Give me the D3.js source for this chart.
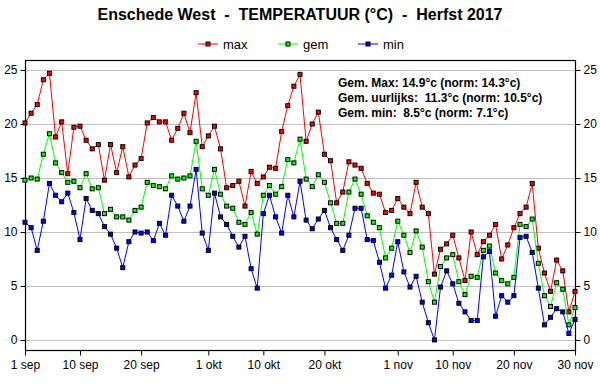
<!DOCTYPE html>
<html>
<head>
<meta charset="utf-8">
<script src="https://cdn.jsdelivr.net/npm/d3@7"></script>
<style>
  body { margin: 0; background: #fff; }
  svg { font-family: Arial, "Liberation Sans", sans-serif; }
</style>
</head>
<body>
<div id="chart"></div>
<script>
const maxT = [20.1, 21.0, 21.8, 24.1, 24.7, 18.8, 20.2, 15.4, 19.7, 19.8,
  18.5, 17.7, 18.1, 14.8, 18.1, 15.5, 17.9, 15.1, 16.2, 16.8,
  20.1, 20.6, 20.2, 20.2, 18.5, 19.6, 21.0, 19.2, 22.9, 17.9,
  18.9, 19.8, 17.7, 14.1, 14.3, 14.7, 12.4, 15.6, 14.5, 15.1,
  16.0, 15.9, 19.3, 21.7, 23.5, 24.6, 18.4, 20.0, 21.1, 17.2,
  16.6, 12.7, 13.7, 16.5, 16.2, 15.9, 14.5, 13.6, 13.5, 11.8,
  12.0, 13.1, 12.3, 11.7, 14.6, 12.3, 11.7, 6.1, 8.4, 8.9,
  9.7, 7.6, 5.5, 10.0, 7.9, 9.1, 9.7, 10.7, 7.5, 8.8,
  10.4, 11.7, 12.3, 14.5, 8.5, 6.2, 4.5, 7.4, 6.4, 2.6, 4.5];

const gemT = [14.8, 15.0, 14.9, 17.2, 19.1, 16.4, 15.5, 14.6, 14.7, 14.1,
  15.4, 14.0, 14.1, 11.7, 12.1, 11.4, 11.4, 11.1, 12.0, 12.3,
  14.6, 14.3, 14.2, 14.0, 15.2, 14.9, 15.0, 15.2, 18.4, 14.0,
  13.4, 15.8, 13.5, 12.4, 12.2, 10.9, 10.7, 11.8, 9.8, 13.4,
  14.3, 13.5, 14.2, 16.7, 16.4, 18.6, 14.9, 14.2, 15.3, 14.6,
  12.7, 10.8, 10.8, 13.7, 14.9, 13.5, 11.5, 10.9, 10.4, 7.6,
  8.5, 11.0, 9.7, 8.1, 10.1, 8.6, 5.4, 3.5, 6.8, 7.6,
  7.9, 5.4, 4.2, 5.9, 5.8, 8.3, 8.7, 6.2, 5.5, 5.2,
  5.8, 10.7, 10.5, 11.2, 7.1, 4.1, 3.1, 5.3, 4.7, 1.4, 3.0];

const minT = [10.9, 10.4, 8.3, 11.0, 14.5, 13.4, 12.8, 13.6, 11.8, 9.3,
  13.1, 12.0, 11.7, 10.5, 9.8, 8.5, 6.7, 9.1, 10.0, 9.9,
  10.0, 9.2, 10.8, 9.7, 13.4, 12.4, 11.0, 12.4, 15.8, 9.9,
  8.3, 13.6, 11.4, 10.7, 9.6, 8.6, 9.6, 6.6, 4.8, 11.7,
  13.4, 11.4, 9.9, 13.4, 11.4, 14.7, 11.1, 10.3, 11.2, 12.0,
  10.4, 9.3, 8.3, 9.7, 12.2, 12.2, 9.3, 9.2, 7.2, 4.8,
  6.0, 9.1, 6.3, 4.9, 5.9, 3.5, 1.6, 0.0, 4.9, 6.4,
  5.2, 3.4, 2.6, 1.8, 1.8, 7.7, 8.2, 2.2, 4.1, 3.5,
  4.1, 9.5, 9.6, 8.1, 4.8, 1.4, 2.1, 2.9, 2.6, 0.6, 1.9];

// day index (0 = 1 sep) of each x tick and its label
const tickDays = [0, 9, 19, 30, 39, 49, 61, 70, 80, 90];
const tickLabels = ["1 sep", "10 sep", "20 sep", "1 okt", "10 okt", "20 okt", "1 nov", "10 nov", "20 nov", "30 nov"];
const yTicks = [0, 5, 10, 15, 20, 25];

const seriesNames = ["max", "gem", "min"];
const seriesColors = ["#ff0000", "#00ff00", "#0000ff"];
const seriesData = [maxT, gemT, minT];

const statLines = [
  "Gem. Max: 14.9°c (norm: 14.3°c)",
  "Gem. uurlijks:  11.3°c (norm: 10.5°c)",
  "Gem. min:  8.5°c (norm: 7.1°c)"
];

const W = 600, H = 390;
const plot = { left: 25, right: 575, top: 60, bottom: 350 };

const svg = d3.select("#chart").append("svg")
  .attr("width", W)
  .attr("height", H);

const x = d3.scaleLinear().domain([0, maxT.length - 1]).range([plot.left, plot.right]);
const y = d3.scaleLinear().domain([-0.93, 25.93]).range([plot.bottom, plot.top]);

// title
svg.append("text")
  .attr("x", 300)
  .attr("y", 20)
  .attr("text-anchor", "middle")
  .style("font-size", "16px")
  .style("font-weight", "bold")
  .text("Enschede West  -  TEMPERATUUR (°C)  -  Herfst 2017")
  .attr("xml:space", "preserve")
  .style("white-space", "pre");

// legend
const legendX = [198, 278, 358];
const legend = svg.append("g").attr("class", "legend");
seriesNames.forEach((name, i) => {
  const g = legend.append("g").attr("transform", `translate(${legendX[i]},44)`);
  g.append("line").attr("x1", 0).attr("x2", 20).attr("y1", 0).attr("y2", 0)
    .attr("stroke", seriesColors[i]).attr("stroke-width", 1);
  g.append("rect").attr("x", 8).attr("y", -2).attr("width", 4).attr("height", 4)
    .attr("fill", seriesColors[i]).attr("stroke", "#000").attr("stroke-width", 1);
  g.append("text").attr("x", 25).attr("y", 4.5)
    .style("font-size", "13px")
    .text(name);
});

// gridlines
svg.append("g")
  .selectAll("line")
  .data(yTicks)
  .enter().append("line")
  .attr("x1", plot.left)
  .attr("x2", plot.right)
  .attr("y1", d => Math.round(y(d)) + 0.5)
  .attr("y2", d => Math.round(y(d)) + 0.5)
  .attr("stroke", "#c0c0c0")
  .attr("stroke-width", 1);

// axes
const fmtX = (d, i) => tickLabels[tickDays.indexOf(d)];

const xAxis = svg.append("g")
  .attr("transform", `translate(0,${plot.bottom + 0.5})`)
  .call(d3.axisBottom(x).tickValues(tickDays).tickFormat(fmtX).tickSize(5).tickSizeOuter(0));

const yAxisL = svg.append("g")
  .attr("transform", `translate(${plot.left + 0.5},0)`)
  .call(d3.axisLeft(y).tickValues(yTicks).tickSize(5).tickSizeOuter(0));

const yAxisR = svg.append("g")
  .attr("transform", `translate(${plot.right + 0.5},0)`)
  .call(d3.axisRight(y).tickValues(yTicks).tickSize(5).tickSizeOuter(0));

[xAxis, yAxisL, yAxisR].forEach(a => {
  a.select(".domain").remove();
  a.selectAll("line").attr("stroke", "#000");
  a.selectAll("text")
    .attr("fill", "#000")
    .style("font-size", "12px")
    .style("font-family", "Arial, 'Liberation Sans', sans-serif");
});
xAxis.selectAll("text").attr("dy", "0.85em");

// frame
svg.append("rect")
  .attr("x", plot.left + 0.5)
  .attr("y", plot.top + 0.5)
  .attr("width", plot.right - plot.left)
  .attr("height", plot.bottom - plot.top)
  .attr("fill", "none")
  .attr("stroke", "#000")
  .attr("stroke-width", 1.2);

// series
const line = d3.line()
  .x((d, i) => x(i))
  .y(d => y(d));

seriesData.forEach((vals, k) => {
  const g = svg.append("g").attr("class", "series-" + seriesNames[k]);
  g.append("path")
    .datum(vals)
    .attr("fill", "none")
    .attr("stroke", seriesColors[k])
    .attr("stroke-width", 1)
    .attr("d", line);
  g.selectAll("rect")
    .data(vals)
    .enter().append("rect")
    .attr("x", (d, i) => x(i) - 2)
    .attr("y", d => y(d) - 2)
    .attr("width", 4)
    .attr("height", 4)
    .attr("fill", seriesColors[k])
    .attr("stroke", "#000")
    .attr("stroke-width", 1);
});

// stats box
svg.append("g")
  .selectAll("text")
  .data(statLines)
  .enter().append("text")
  .attr("x", 338)
  .attr("y", (d, i) => 87 + i * 15)
  .style("font-size", "12px")
  .style("font-weight", "bold")
  .style("white-space", "pre")
  .text(d => d);
</script>
</body>
</html>
